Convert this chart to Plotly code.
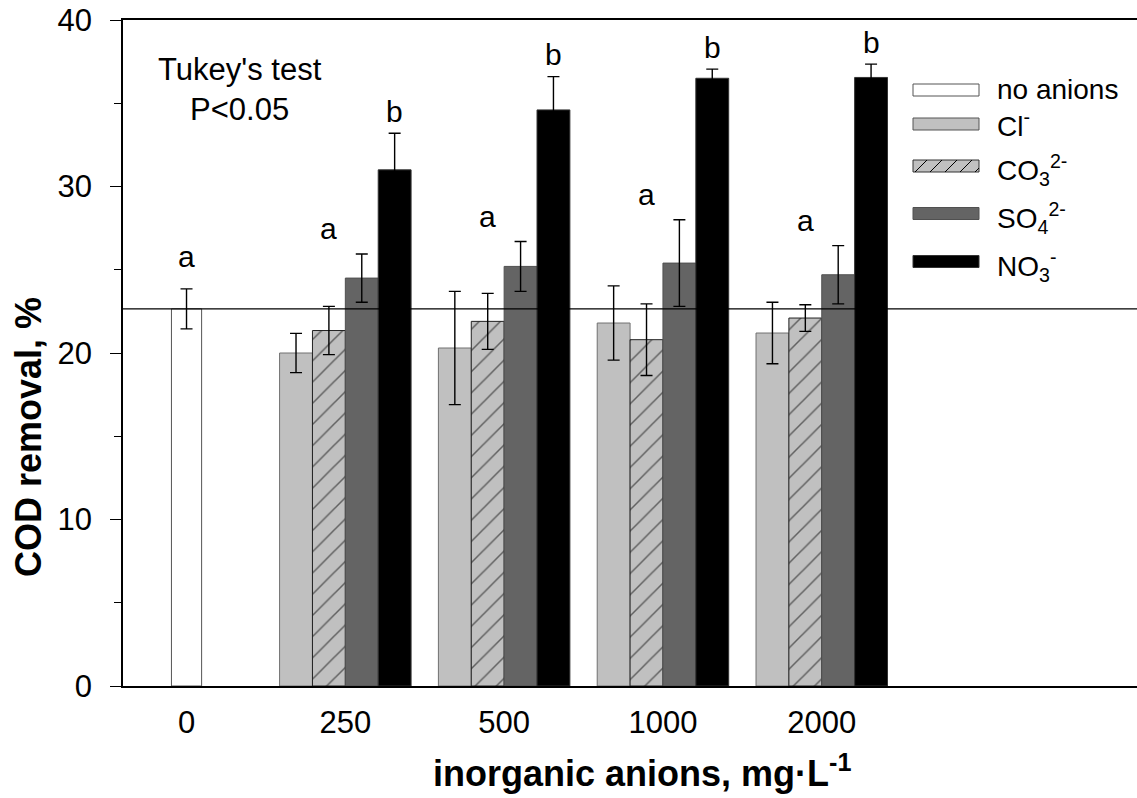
import plotly.graph_objects as go

# ---- data ----
group_labels = ["0", "250", "500", "1000", "2000"]
anion_groups = [1, 2, 3, 4]            # category index of 250..2000
no_anions_val = [22.65]
no_anions_err = [1.2]
cl_val = [20.0, 20.3, 21.8, 21.2]
cl_err = [1.18, 3.4, 2.23, 1.85]
co3_val = [21.35, 21.9, 20.8, 22.1]
co3_err = [1.45, 1.68, 2.15, 0.8]
so4_val = [24.5, 25.2, 25.4, 24.7]
so4_err = [1.45, 1.5, 2.6, 1.75]
no3_val = [31.0, 34.6, 36.5, 36.55]
no3_err = [2.2, 2.0, 0.55, 0.8]
letters_ctrl = ["a"]
letters_low = ["a", "a", "a", "a"]
letters_high = ["b", "b", "b", "b"]

FONT = "Arial, Liberation Sans, sans-serif"
W, H = 1137, 798
ML, MR, MT, MB = 123, 0, 20, 112
PW, PH = W - ML - MR, H - MT - MB

def px(x):
    return (x - ML) / PW

def py(y):
    return (H - MB - y) / PH

bw = 0.207
fig = go.Figure()

err_style = dict(type="data", color="black", thickness=1.4, width=6, visible=True)

fig.add_trace(go.Bar(
    x=[0], y=no_anions_val, width=0.19, name="no anions",
    marker=dict(color="white", line=dict(color="#555555", width=1)),
    error_y=dict(array=no_anions_err, **err_style), showlegend=False))

series = [
    ("Cl-", cl_val, cl_err, dict(color="#c0c0c0", line=dict(color="#707070", width=1))),
    ("CO3", co3_val, co3_err, dict(color="#c0c0c0", line=dict(color="#222222", width=1),
                                   pattern=dict(shape="/", fgcolor="black", bgcolor="#c0c0c0",
                                                size=15, solidity=0.1))),
    ("SO4", so4_val, so4_err, dict(color="#646464", line=dict(color="#505050", width=1))),
    ("NO3", no3_val, no3_err, dict(color="black", line=dict(color="#333333", width=1))),
]
for k, (name, vals, errs, mk) in enumerate(series):
    fig.add_trace(go.Bar(
        x=anion_groups, y=vals, width=bw, offset=-2 * bw + k * bw, name=name,
        marker=mk, error_y=dict(array=errs, **err_style), showlegend=False))

# horizontal reference line at the control level
shapes = [dict(type="line", xref="paper", x0=0, x1=1, yref="y",
               y0=no_anions_val[0], y1=no_anions_val[0],
               line=dict(color="black", width=1.3), layer="above")]

annotations = []
tf = dict(family=FONT, size=30, color="black")
# letters
annotations.append(dict(x=0, y=no_anions_val[0] + no_anions_err[0], text=letters_ctrl[0],
                        showarrow=False, yanchor="middle", yshift=32, font=tf))
for i, g in enumerate(anion_groups):
    top_low = max(cl_val[i] + cl_err[i], co3_val[i] + co3_err[i], so4_val[i] + so4_err[i])
    annotations.append(dict(x=g - bw / 2, y=top_low, text=letters_low[i], showarrow=False,
                            yanchor="middle", yshift=25, font=tf))
    annotations.append(dict(x=g + 1.5 * bw, y=no3_val[i] + no3_err[i], text=letters_high[i],
                            showarrow=False, yanchor="middle", yshift=22, font=tf))

annotations.append(dict(xref="paper", yref="paper", x=px(240), y=py(90),
                        text="Tukey's test<br>P&lt;0.05", showarrow=False,
                        xanchor="center", yanchor="middle",
                        font=dict(family=FONT, size=31, color="black")))

# axis titles
annotations.append(dict(xref="paper", yref="paper", x=px(28), y=py(437),
                        text="<b>COD removal, %</b>", textangle=-90, showarrow=False,
                        xanchor="center", yanchor="middle",
                        font=dict(family=FONT, size=36, color="black")))
annotations.append(dict(xref="paper", yref="paper", x=px(642), y=py(771),
                        text="<b>inorganic anions, mg·L<sup>-1</sup></b>", showarrow=False,
                        xanchor="center", yanchor="middle",
                        font=dict(family=FONT, size=36, color="black")))

# legend (manual)
leg_names = ["no anions", "Cl<sup>-</sup>", "CO<sub>3</sub><sup>2-</sup>",
             "SO<sub>4</sub><sup>2-</sup>", "NO<sub>3</sub><sup>-</sup>"]
leg_fill = ["white", "#c0c0c0", "#c0c0c0", "#646464", "black"]
leg_line = ["#555555", "#555555", "#333333", "#505050", "#333333"]
leg_y = [90, 124, 166, 213.5, 261.5]
kx0, kx1, kh = 913, 979, 12
for j in range(5):
    yc = leg_y[j]
    shapes.append(dict(type="rect", xref="paper", yref="paper",
                       x0=px(kx0), x1=px(kx1), y0=py(yc + kh / 2), y1=py(yc - kh / 2),
                       fillcolor=leg_fill[j], line=dict(color=leg_line[j], width=1)))
    if j == 2:
        for hx in range(kx0 + 2, kx1, 15):
            x_end = min(hx + kh, kx1)
            y_end = yc + kh / 2 - (x_end - hx)
            shapes.append(dict(type="line", xref="paper", yref="paper",
                               x0=px(hx), y0=py(yc + kh / 2), x1=px(x_end), y1=py(y_end),
                               line=dict(color="black", width=1)))
    yshift = 0
    if j >= 2:
        yshift = -4
    annotations.append(dict(xref="paper", yref="paper", x=px(995), y=py(yc),
                            text=leg_names[j], showarrow=False, xanchor="left",
                            yanchor="middle", yshift=yshift, font=dict(family=FONT, size=28, color="black")))

fig.update_layout(
    width=W, height=H,
    margin=dict(l=ML, r=MR, t=MT, b=MB, pad=0),
    paper_bgcolor="white", plot_bgcolor="white",
    showlegend=False,
    shapes=shapes, annotations=annotations,
    font=dict(family=FONT, size=30, color="black"),
    xaxis=dict(range=[-0.4, 5.985], tickmode="array", tickvals=[0, 1, 2, 3, 4],
               ticktext=group_labels, ticks="", showline=True, linecolor="black",
               linewidth=1.5, mirror=True, showgrid=False, zeroline=False,
               ticklabelstandoff=8, tickfont=dict(family=FONT, size=31)),
    yaxis=dict(range=[0, 40], tickvals=[0, 10, 20, 30, 40], ticks="outside", ticklen=11,
               tickwidth=1.3, tickcolor="black", showline=True, linecolor="black",
               linewidth=1.5, showgrid=False, zeroline=False, ticklabelstandoff=12,
               tickfont=dict(family=FONT, size=31),
               minor=dict(dtick=5, ticks="outside", ticklen=7, tickwidth=1.3,
                          tickcolor="black", showgrid=False)),
)

fig.write_html("out.html")
